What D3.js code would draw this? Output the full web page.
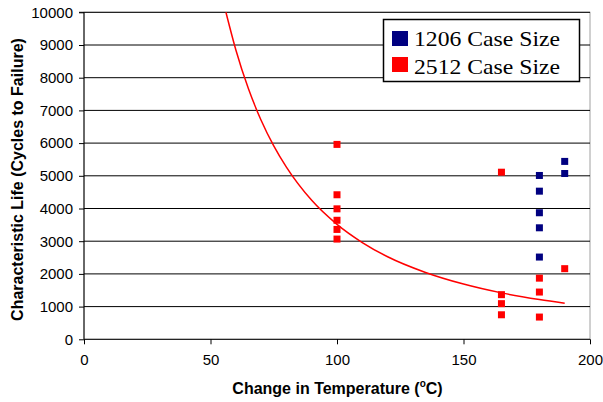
<!DOCTYPE html>
<html>
<head>
<meta charset="utf-8">
<script src="https://cdn.jsdelivr.net/npm/d3@7"></script>
<style>
  html, body { margin: 0; padding: 0; background: #fff; }
  svg { display: block; }
</style>
</head>
<body>
<svg id="chart" width="603" height="402"></svg>
<script>
// ---- Data ----
const xTicks = [0, 50, 100, 150, 200];
const yTicks = [0, 1000, 2000, 3000, 4000, 5000, 6000, 7000, 8000, 9000, 10000];

const series1206X = [180, 180, 180, 180, 180, 190, 190];
const series1206Y = [5010, 4530, 3870, 3410, 2515, 5440, 5070];

const series2512X = [100, 100, 100, 100, 100, 100, 165, 165, 165, 165, 180, 180, 180, 190];
const series2512Y = [5960, 4420, 3990, 3640, 3360, 3065, 5110, 1365, 1090, 750, 1870, 1445, 680, 2160];

// Trend curve points
const curveX = [56.1, 60, 65, 70, 75, 80, 90, 100, 110, 120, 135, 150, 165, 180, 190];
const curveY = [10000, 8855, 7660, 6700, 5915, 5265, 4250, 3515, 2960, 2525, 2045, 1690, 1420, 1215, 1100];

const legendLabels = ["1206 Case Size", "2512 Case Size"];
const colors = ["#000080", "#FF0000"];

// ---- Layout ----
const svg = d3.select("#chart");
const x = d3.scaleLinear().domain([0, 200]).range([84, 590]);
const y = d3.scaleLinear().domain([0, 10000]).range([339.3, 12.3]);
const font = "Arial, 'Liberation Sans', sans-serif";

// plot area border (grey)
svg.append("rect")
  .attr("x", x(0)).attr("y", y(10000))
  .attr("width", x(200) - x(0)).attr("height", y(0) - y(10000))
  .attr("fill", "#fff").attr("stroke", "#a0a0a0").attr("stroke-width", 1);

// gridlines
svg.append("g").selectAll("line").data(yTicks.filter(d => d > 0)).join("line")
  .attr("x1", x(0)).attr("x2", x(200))
  .attr("y1", d => y(d)).attr("y2", d => y(d))
  .attr("stroke", "#000").attr("stroke-width", 1);

// axes
const yAxis = d3.axisLeft(y).tickValues(yTicks).tickSize(5).tickPadding(6).tickFormat(d3.format("d"));
const gy = svg.append("g").attr("transform", `translate(${x(0)},0)`).call(yAxis);
gy.select(".domain").attr("stroke", "#000").attr("d", `M-5,${y(10000)}H0V${y(0)}`);

const xAxis = d3.axisBottom(x).tickValues(xTicks).tickSize(5).tickPadding(10.5).tickFormat(d3.format("d"));
const gx = svg.append("g").attr("transform", `translate(0,${y(0)})`).call(xAxis);
gx.select(".domain").attr("stroke", "#000").attr("d", `M${x(0)},0H${x(200)}`);

[gx, gy].forEach(g => {
  g.selectAll("text").attr("font-family", font).attr("font-size", "15px").attr("fill", "#000");
  g.selectAll(".tick line").attr("stroke", "#000");
});

// trend curve
const line = d3.line().x(d => x(d[0])).y(d => y(d[1])).curve(d3.curveMonotoneX);
svg.append("path")
  .datum(curveX.map((v, i) => [v, curveY[i]]))
  .attr("d", line)
  .attr("fill", "none").attr("stroke", "#FF0000").attr("stroke-width", 1.5);

// markers
const ms = 7;
function drawSeries(xs, ys, color) {
  svg.append("g").selectAll("rect").data(xs.map((v, i) => [v, ys[i]])).join("rect")
    .attr("x", d => x(d[0]) - ms / 2).attr("y", d => y(d[1]) - ms / 2)
    .attr("width", ms).attr("height", ms).attr("fill", color);
}
drawSeries(series2512X, series2512Y, colors[1]);
drawSeries(series1206X, series1206Y, colors[0]);

// legend
const lg = svg.append("g");
lg.append("rect").attr("x", 383.5).attr("y", 19.5).attr("width", 196).attr("height", 62)
  .attr("fill", "#fff").attr("stroke", "#000").attr("stroke-width", 1.5);
legendLabels.forEach((lab, i) => {
  lg.append("rect").attr("x", 392).attr("y", 31 + i * 26).attr("width", 16).attr("height", 15)
    .attr("fill", colors[i]);
  lg.append("text").attr("x", 414).attr("y", 45.7 + i * 28)
    .attr("font-family", "'Times New Roman', 'Liberation Serif', serif")
    .attr("font-size", "22px").attr("fill", "#000")
    .attr("textLength", 146).attr("lengthAdjust", "spacingAndGlyphs")
    .text(lab);
});

// axis titles
const xt = svg.append("text").attr("x", 337.5).attr("y", 394)
  .attr("text-anchor", "middle").attr("font-family", font)
  .attr("font-size", "16px").attr("font-weight", "bold").attr("fill", "#000");
xt.append("tspan").text("Change in Temperature (");
xt.append("tspan").attr("dy", -7).attr("font-size", "10px").text("o");
xt.append("tspan").attr("dy", 7).text("C)");

svg.append("text")
  .attr("transform", `translate(23,179.5) rotate(-90)`)
  .attr("text-anchor", "middle").attr("font-family", font)
  .attr("font-size", "16px").attr("font-weight", "bold").attr("fill", "#000")
  .text("Characteristic Life (Cycles to Failure)");
</script>
</body>
</html>
